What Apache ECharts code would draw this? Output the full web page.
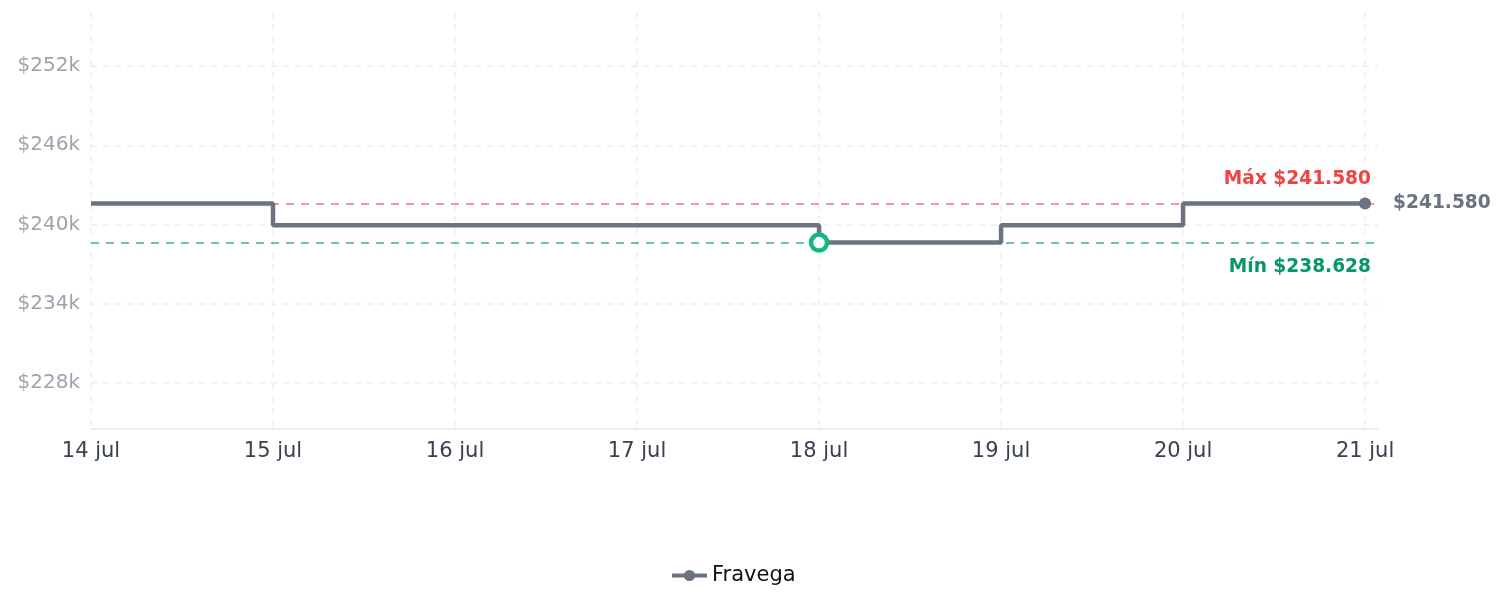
<!DOCTYPE html>
<html>
<head>
<meta charset="utf-8">
<title>Fravega</title>
<script src="https://cdn.jsdelivr.net/npm/echarts@6/dist/echarts.min.js"></script>
<style>
  html, body { margin: 0; padding: 0; background: #fff; }
  #chart { width: 1505px; height: 607px; }
</style>
</head>
<body>
<div id="chart"></div>
<script>
  // datos
  var days = ['2025-07-14', '2025-07-15', '2025-07-16', '2025-07-17', '2025-07-18', '2025-07-19', '2025-07-20', '2025-07-21'];
  var prices = [241580, 239940, 239940, 239940, 238628, 239940, 241580, 241580];
  var yTicks = [228000, 234000, 240000, 246000, 252000];
  var seriesName = 'Fravega';

  var DAY = 86400000;
  var times = days.map(function (d) { return Date.parse(d + 'T00:00:00Z'); });
  var minPrice = Math.min.apply(null, prices);
  var maxPrice = Math.max.apply(null, prices);

  function money(v) {
    return '$' + Math.round(v).toString().replace(/\B(?=(\d{3})+(?!\d))/g, '.');
  }

  var last = prices.length - 1;
  var seriesData = prices.map(function (v, i) {
    if (i === last) {
      return {
        value: [times[i], v],
        symbol: 'circle',
        symbolSize: 12,
        label: {
          show: true,
          position: 'right',
          distance: 22,
          formatter: function (p) { return money(p.value[1]); },
          color: '#6b7280',
          fontWeight: 'bold',
          fontSize: 18.6
        }
      };
    }
    return { value: [times[i], v], symbol: 'none' };
  });

  var chart = echarts.init(document.getElementById('chart'));
  chart.setOption({
    animation: false,
    textStyle: { fontFamily: 'DejaVu Sans' },
    grid: { left: 91, right: 127, top: 12, bottom: 178, containLabel: false },
    legend: {
      data: [seriesName],
      left: 665,
      top: 560,
      itemWidth: 35,
      itemHeight: 14,
      itemGap: 10,
      lineStyle: { width: 4 },
      textStyle: { fontSize: 21, color: '#111', fontFamily: 'DejaVu Sans' }
    },
    xAxis: {
      type: 'value',
      min: times[0],
      max: times[last] + 0.071 * DAY,
      interval: DAY,
      axisLine: { show: true, lineStyle: { color: '#e5e7eb', width: 1.5 } },
      axisTick: { show: false },
      axisLabel: {
        margin: 12,
        fontSize: 21,
        color: '#374151',
        showMaxLabel: false,
        formatter: function (v) { return new Date(v).getUTCDate() + ' jul'; }
      },
      splitLine: {
        show: true,
        showMaxLine: false,
        lineStyle: { color: '#eeeeee', type: [6, 6], width: 1.5 }
      }
    },
    yAxis: {
      type: 'value',
      min: 224500,
      max: 256100,
      axisLine: { show: false },
      axisTick: { show: false, customValues: yTicks },
      axisLabel: {
        margin: 11,
        fontSize: 20,
        color: '#9ca3af',
        customValues: yTicks,
        formatter: function (v) { return '$' + Math.round(v / 1000) + 'k'; }
      },
      splitLine: {
        show: true,
        lineStyle: { color: '#eeeeee', type: [6, 6], width: 1.5 }
      }
    },
    series: [{
      name: seriesName,
      type: 'line',
      step: 'end',
      symbol: 'circle',
      showSymbol: true,
      data: seriesData,
      z: 3,
      lineStyle: { color: '#6b7280', width: 4.5 },
      itemStyle: { color: '#6b7280' },
      markLine: {
        silent: true,
        symbol: 'none',
        z: 2,
        data: [
          {
            type: 'max',
            lineStyle: { color: '#f87171', type: [8, 7], width: 1.5 },
            label: {
              position: 'insideEndTop',
              distance: [7, 15],
              formatter: 'Máx ' + money(maxPrice),
              color: '#ef4444',
              fontWeight: 'bold',
              fontSize: 18.6
            }
          },
          {
            type: 'min',
            lineStyle: { color: '#34b58a', type: [8, 7], width: 1.5 },
            label: {
              position: 'insideEndBottom',
              distance: [7, 15],
              formatter: 'Mín ' + money(minPrice),
              color: '#059669',
              fontWeight: 'bold',
              fontSize: 18.6
            }
          }
        ]
      },
      markPoint: {
        silent: true,
        z: 5,
        data: [{
          type: 'min',
          symbol: 'circle',
          symbolSize: 16,
          itemStyle: { color: '#fff', borderColor: '#10b981', borderWidth: 4.5 },
          label: { show: false }
        }]
      }
    }]
  });
</script>
</body>
</html>
